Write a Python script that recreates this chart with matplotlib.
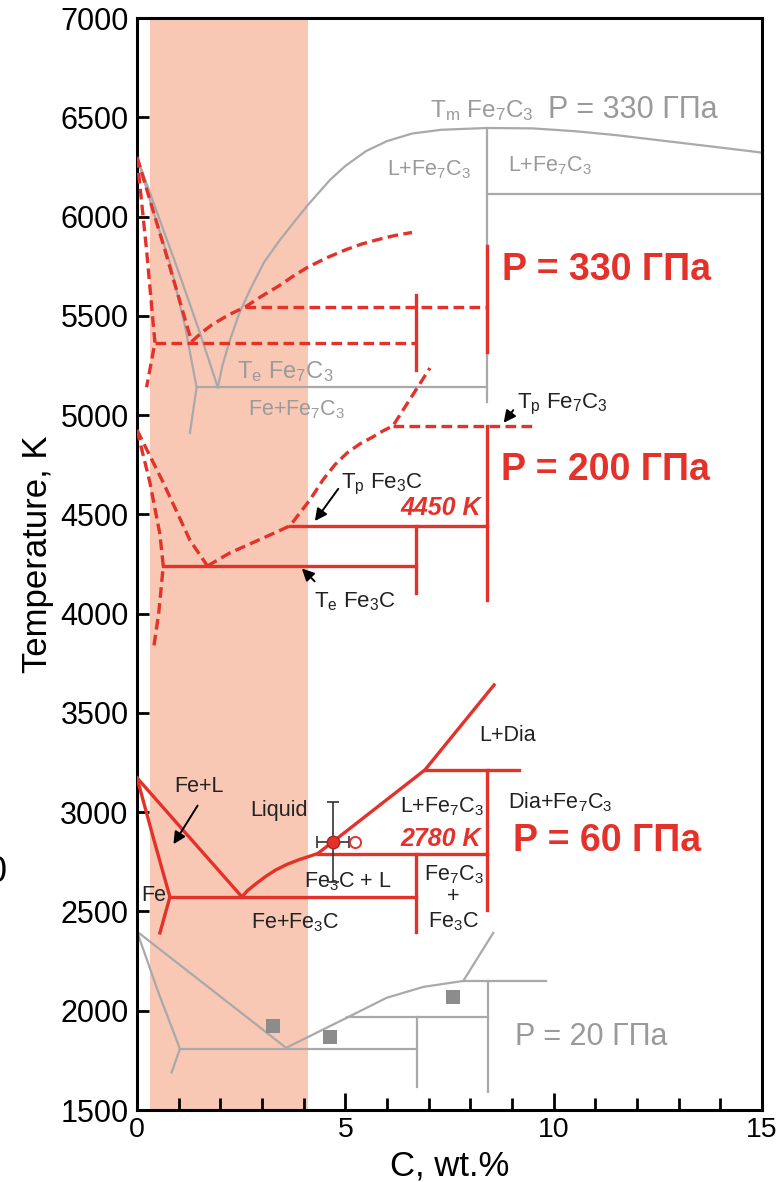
import matplotlib
matplotlib.use("Agg")
import matplotlib.pyplot as plt
from matplotlib.ticker import MultipleLocator, FixedLocator

plt.rcParams['font.family'] = ['Liberation Sans', 'DejaVu Sans']
plt.rcParams['mathtext.fontset'] = 'custom'
plt.rcParams['mathtext.rm'] = 'Liberation Sans'
plt.rcParams['mathtext.it'] = 'Liberation Sans:italic'
plt.rcParams['mathtext.bf'] = 'Liberation Sans:bold'

RED = '#E4322B'
GRAY = '#A9A9A9'
GTXT = '#9A9A9A'
SHADE = '#F8C8B5'

# ---------------- data (x: C wt.%, T: K) ----------------
shade_x = [0.32, 4.1]

# P = 330 GPa, grey (reference)
g330_liqL_x = [0, 0.5, 1.0, 1.5, 1.94]
g330_liqL_T = [6300, 6010, 5720, 5420, 5140]
g330_sol_x = [0, 0.4, 0.8, 1.15, 1.43, 1.27]
g330_sol_T = [6300, 6020, 5760, 5450, 5140, 4910]
g330_liqR_x = [1.94, 2.05, 2.23, 2.45, 2.71, 3.05, 3.43, 3.8, 4.10, 4.63, 5.0, 5.5, 6.0,
               6.6, 7.3, 8.4, 9.5, 10.5, 11.5, 12.5, 13.5, 14.3, 15]
g330_liqR_T = [5140, 5250, 5378, 5510, 5630, 5770, 5882, 5980, 6058, 6184, 6255, 6330, 6380,
               6418, 6437, 6446, 6444, 6430, 6410, 6385, 6360, 6340, 6322]
g330_eut_x = [1.43, 8.4]
g330_eut_T = [5140, 5140]
g330_vert_x = [8.4, 8.4]
g330_vert_T = [6446, 5065]
g330_hor_x = [8.4, 15]
g330_hor_T = [6115, 6115]

# P = 330 GPa, red dashed
r330_liqL_x = [0, 0.65, 1.31]
r330_liqL_T = [6300, 5845, 5370]
r330_sol_x = [0, 0.23, 0.43, 0.23]
r330_sol_T = [6300, 5830, 5365, 5140]
r330_eut_x = [0.43, 6.7]
r330_eut_T = [5365, 5365]
r330_liqR_x = [1.31, 1.55, 1.8, 2.2, 2.6, 3.0, 3.4, 3.75, 4.1, 4.55, 5.0, 5.4, 5.8, 6.2, 6.6]
r330_liqR_T = [5370, 5415, 5455, 5505, 5545, 5600, 5650, 5700, 5745, 5792, 5832, 5862, 5885, 5905, 5920]
r330_per_x = [2.6, 8.4]
r330_per_T = [5545, 5545]
r330_v1_x = [6.7, 6.7]
r330_v1_T = [5605, 5225]
r330_v2_x = [8.4, 8.4]
r330_v2_T = [5850, 5320]

# P = 200 GPa, red
r200_liqL_x = [0, 0.63, 1.27, 1.69]
r200_liqL_T = [4925, 4660, 4370, 4240]
r200_sol_x = [0, 0.31, 0.55, 0.63, 0.52, 0.39]
r200_sol_T = [4925, 4660, 4400, 4240, 4000, 3815]
r200_eut_x = [0.63, 6.7]
r200_eut_T = [4240, 4240]
r200_liqR_x = [1.69, 2.23, 3.03, 3.67, 3.9, 4.15, 4.46, 4.75, 5.04, 5.35, 5.66, 5.9, 6.14, 7.03]
r200_liqR_T = [4240, 4306, 4381, 4442, 4505, 4573, 4673, 4750, 4809, 4855, 4890, 4920, 4945, 5237]
r200_tp_x = [3.67, 8.4]
r200_tp_T = [4442, 4442]
r200_tp7_x = [6.14, 9.55]
r200_tp7_T = [4945, 4945]
r200_v1_x = [6.7, 6.7]
r200_v1_T = [4442, 4104]
r200_v2_x = [8.4, 8.4]
r200_v2_T = [4945, 4069]

# P = 60 GPa, red
r60_liqL_x = [0, 2.52]
r60_liqL_T = [3173, 2573]
r60_sol_x = [0, 0.38, 0.79, 0.55]
r60_sol_T = [3173, 2880, 2573, 2392]
r60_eut_x = [0.79, 6.7]
r60_eut_T = [2573, 2573]
r60_liqR_x = [2.52, 2.65, 2.87, 3.1, 3.33, 3.6, 3.88, 4.34, 6.91, 8.57]
r60_liqR_T = [2573, 2605, 2642, 2678, 2709, 2737, 2760, 2792, 3213, 3641]
r60_h2780_x = [4.34, 8.4]
r60_h2780_T = [2790, 2790]
r60_h3210_x = [6.91, 9.17]
r60_h3210_T = [3210, 3210]
r60_v1_x = [6.7, 6.7]
r60_v1_T = [2790, 2399]
r60_v2_x = [8.4, 8.4]
r60_v2_T = [3210, 2508]
exp_x, exp_T = 4.7, 2850
exp_xerr, exp_Terr = 0.38, 200
open_x, open_T = 5.22, 2850

# P = 20 GPa, grey
g20_liqL_x = [0, 3.58]
g20_liqL_T = [2399, 1813]
g20_sol_x = [0, 0.5, 1.03, 0.83]
g20_sol_T = [2399, 2100, 1808, 1689]
g20_eut_x = [1.03, 6.71]
g20_eut_T = [1808, 1808]
g20_liqR_x = [3.58, 5.03, 5.99, 6.87, 7.83, 8.55]
g20_liqR_T = [1813, 1964, 2065, 2120, 2150, 2392]
g20_h2150_x = [7.83, 9.81]
g20_h2150_T = [2150, 2150]
g20_h1968_x = [5.03, 8.43]
g20_h1968_T = [1968, 1968]
g20_v1_x = [8.43, 8.43]
g20_v1_T = [2150, 1593]
g20_v2_x = [6.71, 6.71]
g20_v2_T = [1968, 1618]
sq_x = [3.26, 4.62, 7.59]
sq_T = [1925, 1867, 2071]

xticks_major = [0, 5, 10, 15]
yticks = [1500, 2000, 2500, 3000, 3500, 4000, 4500, 5000, 5500, 6000, 6500, 7000]

# ---------------- figure ----------------
fig = plt.figure(figsize=(7.81, 11.82), dpi=100)
ax = fig.add_axes([137/781, 1 - 1110/1182, (762-137)/781, (1110-18)/1182])
ax.set_xlim(0, 15)
ax.set_ylim(1500, 7000)

ax.axvspan(shade_x[0], shade_x[1], color=SHADE, lw=0, zorder=0)

glw = 1.6
rlw = 2.4
dash = (0, (3.2, 1.6))

def g(x, y):
    ax.plot(x, y, color=GRAY, lw=glw, solid_joinstyle='round', zorder=2)

def r(x, y, dashed=False):
    ax.plot(x, y, color=RED, lw=rlw, ls=dash if dashed else '-', zorder=3,
            solid_joinstyle='miter')

# 330 grey
for xx, yy in [(g330_liqL_x, g330_liqL_T), (g330_sol_x, g330_sol_T),
               (g330_liqR_x, g330_liqR_T), (g330_eut_x, g330_eut_T),
               (g330_vert_x, g330_vert_T), (g330_hor_x, g330_hor_T)]:
    g(xx, yy)
# 330 red
for xx, yy in [(r330_liqL_x, r330_liqL_T), (r330_sol_x, r330_sol_T),
               (r330_eut_x, r330_eut_T), (r330_liqR_x, r330_liqR_T),
               (r330_per_x, r330_per_T)]:
    r(xx, yy, True)
r(r330_v1_x, r330_v1_T)
r(r330_v2_x, r330_v2_T)

# 200 red
for xx, yy in [(r200_liqL_x, r200_liqL_T), (r200_sol_x, r200_sol_T),
               (r200_liqR_x, r200_liqR_T), (r200_tp7_x, r200_tp7_T)]:
    r(xx, yy, True)
for xx, yy in [(r200_eut_x, r200_eut_T), (r200_tp_x, r200_tp_T),
               (r200_v1_x, r200_v1_T), (r200_v2_x, r200_v2_T)]:
    r(xx, yy)

# 60 red
for xx, yy in [(r60_liqL_x, r60_liqL_T), (r60_sol_x, r60_sol_T),
               (r60_eut_x, r60_eut_T), (r60_liqR_x, r60_liqR_T),
               (r60_h2780_x, r60_h2780_T), (r60_h3210_x, r60_h3210_T),
               (r60_v1_x, r60_v1_T), (r60_v2_x, r60_v2_T)]:
    r(xx, yy)

# 20 grey
for xx, yy in [(g20_liqL_x, g20_liqL_T), (g20_sol_x, g20_sol_T),
               (g20_eut_x, g20_eut_T), (g20_liqR_x, g20_liqR_T),
               (g20_h2150_x, g20_h2150_T), (g20_h1968_x, g20_h1968_T),
               (g20_v1_x, g20_v1_T), (g20_v2_x, g20_v2_T)]:
    g(xx, yy)
ax.scatter(sq_x, sq_T, marker='s', s=90, color='#8C8C8C', zorder=4, lw=0)

# experimental point
ax.errorbar([exp_x], [exp_T], xerr=[exp_xerr], yerr=[exp_Terr], fmt='none',
            ecolor='#333333', elinewidth=1.2, capsize=4, capthick=1.2, zorder=5)
ax.plot([exp_x], [exp_T], 'o', ms=9, mfc=RED, mec='#B02020', mew=1, zorder=6)
ax.plot([open_x], [open_T], 'o', ms=8, mfc='white', mec=RED, mew=1.4, zorder=6)

# ---------------- texts ----------------
FS = 15.5
sub7 = r'$_\mathregular{7}$'
sub3 = r'$_\mathregular{3}$'
fe7c3 = 'Fe' + sub7 + 'C' + sub3
fe3c = 'Fe' + sub3 + 'C'
DARK = '#222222'
arrow_kw = dict(arrowstyle='-|>', color='black', lw=1.4, mutation_scale=18)

# grey labels 330
ax.text(8.28, 6532, r'T$_\mathregular{m}$ ' + fe7c3, color=GTXT, fontsize=17.5, ha='center', va='center')
ax.text(11.9, 6537, 'P = 330 ГПа', color=GTXT, fontsize=22, ha='center', va='center')
ax.text(7.02, 6235, 'L+' + fe7c3, color=GTXT, fontsize=FS, ha='center', va='center')
ax.text(9.91, 6255, 'L+' + fe7c3, color=GTXT, fontsize=FS, ha='center', va='center')
ax.text(3.55, 5217, r'T$_\mathregular{e}$ ' + fe7c3, color=GTXT, fontsize=17, ha='center', va='center')
ax.text(3.82, 5026, 'Fe+' + fe7c3, color=GTXT, fontsize=FS, ha='center', va='center')

# red P labels
ax.text(11.28, 5731, 'P = 330 ГПа', color=RED, fontsize=27, fontweight='bold',
        ha='center', va='center')
ax.text(11.24, 4724, 'P = 200 ГПа', color=RED, fontsize=27, fontweight='bold',
        ha='center', va='center')
ax.text(11.28, 2855, 'P = 60 ГПа', color=RED, fontsize=27, fontweight='bold',
        ha='center', va='center')

# 200 labels
ax.text(10.2, 5056, r'T$_\mathregular{p}$ ' + fe7c3, color=DARK, fontsize=16, ha='center', va='center')
ax.annotate('', xy=(8.76, 4950), xytext=(9.07, 5036), arrowprops=arrow_kw)
ax.text(5.88, 4653, r'T$_\mathregular{p}$ ' + fe3c, color=DARK, fontsize=16, ha='center', va='center')
ax.annotate('', xy=(4.23, 4455), xytext=(4.87, 4640), arrowprops=arrow_kw)
ax.text(5.23, 4062, r'T$_\mathregular{e}$ ' + fe3c, color=DARK, fontsize=16, ha='center', va='center')
ax.annotate('', xy=(3.91, 4237), xytext=(4.31, 4153), arrowprops=arrow_kw)
ax.text(8.25, 4530, '4450 K', color=RED, fontsize=18, fontweight='bold', fontstyle='italic',
        ha='right', va='center')

# 60 labels
ax.text(1.5, 3130, 'Fe+L', color=DARK, fontsize=FS, ha='center', va='center')
ax.annotate('', xy=(0.84, 2827), xytext=(1.49, 3045), arrowprops=arrow_kw)
ax.text(3.4, 3006, 'Liquid', color=DARK, fontsize=FS, ha='center', va='center')
ax.text(8.89, 3384, 'L+Dia', color=DARK, fontsize=FS, ha='center', va='center')
ax.text(7.32, 3027, 'L+' + fe7c3, color=DARK, fontsize=FS, ha='center', va='center')
ax.text(8.25, 2866, '2780 K', color=RED, fontsize=18, fontweight='bold', fontstyle='italic',
        ha='right', va='center')
ax.text(10.15, 3049, 'Dia+' + fe7c3, color=DARK, fontsize=FS, ha='center', va='center')
ax.text(5.06, 2649, fe3c + ' + L', color=DARK, fontsize=FS, ha='center', va='center')
ax.text(7.6, 2684, fe7c3, color=DARK, fontsize=FS, ha='center', va='center')
ax.text(7.6, 2573, '+', color=DARK, fontsize=FS, ha='center', va='center')
ax.text(7.6, 2447, fe3c, color=DARK, fontsize=FS, ha='center', va='center')
ax.text(3.79, 2443, 'Fe+' + fe3c, color=DARK, fontsize=FS, ha='center', va='center')
ax.text(0.41, 2578, 'Fe', color=DARK, fontsize=FS, ha='center', va='center')

# 20 label
ax.text(10.9, 1868, 'P = 20 ГПа', color=GTXT, fontsize=22, ha='center', va='center')

# ---------------- axes styling ----------------
for s in ax.spines.values():
    s.set_linewidth(2.2)
    s.set_color('black')
ax.xaxis.set_major_locator(FixedLocator(xticks_major))
ax.xaxis.set_minor_locator(MultipleLocator(1))
ax.yaxis.set_major_locator(FixedLocator(yticks))
ax.tick_params(axis='x', which='major', direction='in', length=12, width=2, labelsize=20.5, pad=5)
ax.tick_params(axis='x', which='minor', direction='in', length=8.5, width=2)
ax.tick_params(axis='y', which='major', direction='in', length=8.5, width=2, labelsize=22, pad=6)

fig.text(0.5 * (137 + 762) / 781, 1 - 1166/1182, 'C, wt.%', fontsize=25, ha='center', va='center')
fig.text(38/781, 1 - 554/1182, 'Temperature, K', fontsize=25, rotation=90, ha='center', va='center')
# partially cropped glyph at the left edge, as in the reference
fig.text(7/781, 1 - 873/1182, '0', fontsize=26, ha='right', va='center')

fig.savefig('out.png', dpi=100)
